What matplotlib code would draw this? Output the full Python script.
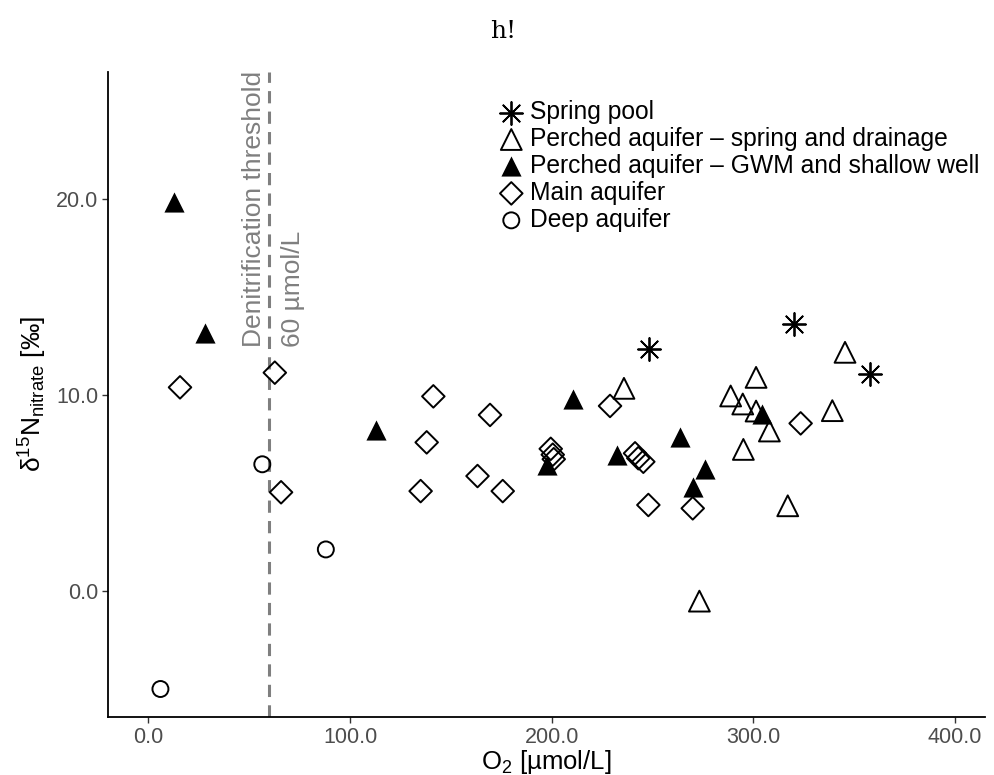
import matplotlib
matplotlib.use("Agg")
import matplotlib.pyplot as plt

plt.rcParams['font.family'] = ['Liberation Sans', 'DejaVu Sans']
plt.rcParams['mathtext.fontset'] = 'custom'
plt.rcParams['mathtext.rm'] = 'Liberation Sans'
plt.rcParams['mathtext.default'] = 'regular'

# O2 [umol/L] and d15N nitrate [permil] per group
spring_pool_x = [248.0, 320.1, 357.8]
spring_pool_y = [12.33, 13.63, 11.07]

perched_spring_x = [235.8, 301.3, 288.7, 294.7, 301.3, 307.9, 295.0, 345.4, 339.1, 317.0, 273.2]
perched_spring_y = [10.34, 10.90, 9.95, 9.54, 9.18, 8.16, 7.22, 12.18, 9.20, 4.34, -0.53]

perched_gwm_x = [12.5, 28.3, 112.9, 197.5, 210.4, 232.2, 263.6, 276.2, 269.9, 304.4]
perched_gwm_y = [19.88, 13.18, 8.21, 6.42, 9.78, 6.93, 7.84, 6.20, 5.31, 9.01]

main_x = [15.7, 62.7, 65.8, 141.3, 138.0, 135.0, 169.4, 163.2, 175.7, 199.5, 200.5, 201.0,
          241.3, 242.9, 245.4, 247.9, 228.9, 269.9, 323.4]
main_y = [10.39, 11.14, 5.03, 9.93, 7.58, 5.09, 8.98, 5.86, 5.09, 7.25, 6.95, 6.72,
          7.02, 6.77, 6.59, 4.38, 9.44, 4.21, 8.55]

deep_x = [6.0, 56.5, 88.0]
deep_y = [-5.02, 6.46, 2.11]

threshold = 60
xticks = [0, 100, 200, 300, 400]
yticks = [0, 10, 20]

fig = plt.figure(figsize=(9.95, 7.75), dpi=100)
ax = fig.add_axes([108 / 995, 58 / 775, 877 / 995, 645 / 775])

ax.axvline(threshold, color='#7F7F7F', lw=2.2, dashes=(4, 2.7), zorder=1)
ax.text(threshold + 2, 12.45, 'Denitrification threshold\n60 µmol/L', rotation=90,
        ha='center', va='bottom', multialignment='left', color='#7F7F7F',
        fontsize=19, linespacing=1.8)

ax.scatter(spring_pool_x, spring_pool_y, marker=(8, 2, 0), s=16.5 ** 2, c='black',
           linewidths=1.3, label='Spring pool', zorder=3)
ax.scatter(perched_spring_x, perched_spring_y, marker='^', s=15 ** 2, facecolors='none',
           edgecolors='black', linewidths=1.4, label='Perched aquifer – spring and drainage', zorder=3)
ax.scatter(perched_gwm_x, perched_gwm_y, marker='^', s=14.5 ** 2, c='black',
           linewidths=0, label='Perched aquifer – GWM and shallow well', zorder=3)
ax.scatter(main_x, main_y, marker='D', s=11.5 ** 2, facecolors='none',
           edgecolors='black', linewidths=1.4, label='Main aquifer', zorder=3)
ax.scatter(deep_x, deep_y, marker='o', s=11.5 ** 2, facecolors='none',
           edgecolors='black', linewidths=1.4, label='Deep aquifer', zorder=3)

ax.set_xlim(-20, 414.8)
ax.set_ylim(-6.45, 26.5)
ax.set_xticks(xticks)
ax.set_xticklabels([f'{v:.1f}' for v in xticks])
ax.set_yticks(yticks)
ax.set_yticklabels([f'{v:.1f}' for v in yticks])
ax.tick_params(length=4, width=1, color='#333333', labelcolor='#4D4D4D', labelsize=15.5, pad=3)
for s in ['top', 'right']:
    ax.spines[s].set_visible(False)
for s in ['left', 'bottom']:
    ax.spines[s].set_linewidth(1.3)

ax.set_xlabel('O$_2$ [µmol/L]', fontsize=18.5, labelpad=0)
ax.set_ylabel('δ$^{15}$N$_{nitrate}$ [‰]', fontsize=19, labelpad=5)

ax.legend(loc='upper left', bbox_to_anchor=(499 / 995, 1 - 100 / 775), bbox_transform=fig.transFigure,
          frameon=False, fontsize=17.7, handlelength=1.0, handletextpad=0.25, labelspacing=0.12,
          borderpad=0, borderaxespad=0, scatterpoints=1)

fig.text(503 / 995, 1 - 38 / 775, 'h!', family='DejaVu Serif', fontsize=18, ha='center', va='baseline')

fig.savefig('out.png', dpi=100)
